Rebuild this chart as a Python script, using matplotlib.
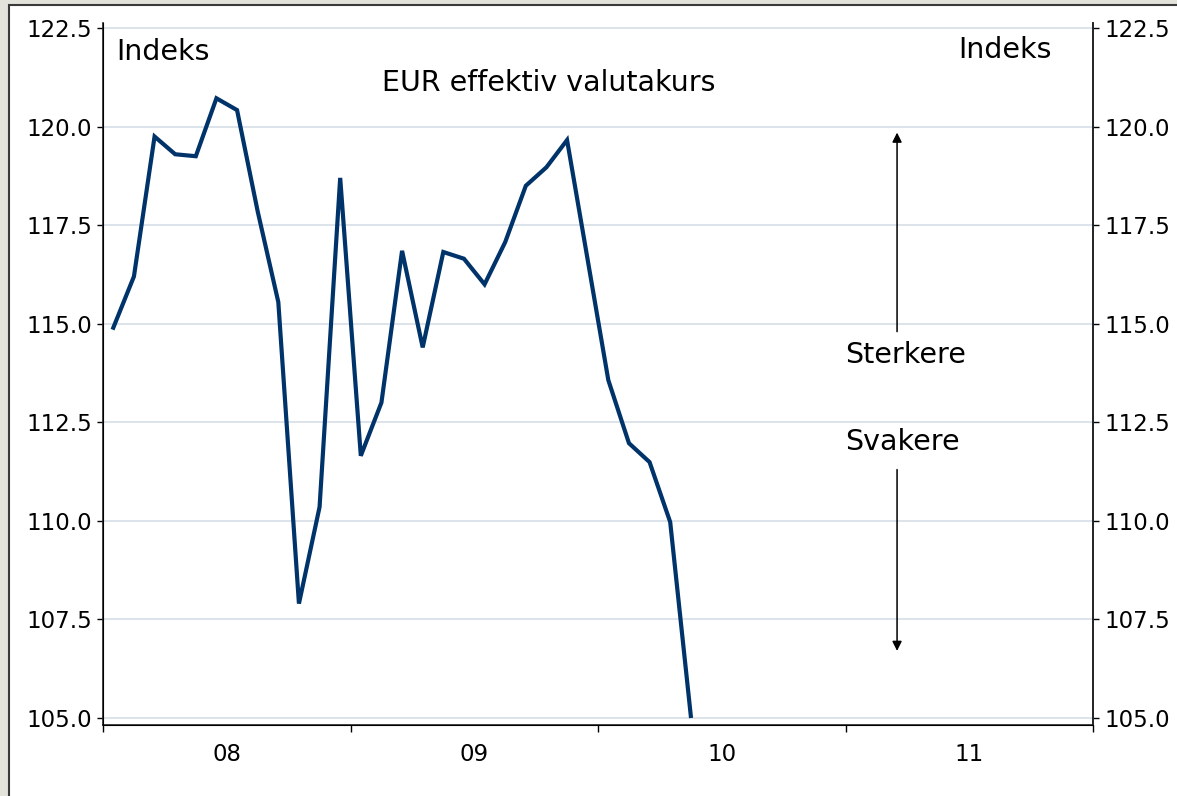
import numpy as np
import matplotlib.pyplot as plt
from matplotlib.patches import Rectangle

# monthly EUR effective exchange rate index, Jan 2008 onwards
values = [114.9, 116.2, 119.75, 119.3, 119.25, 120.72, 120.42, 117.85, 115.55,
          107.9, 110.35, 118.7, 111.65, 113.0, 116.85, 114.4, 116.82, 116.65,
          116.0, 117.07, 118.5, 118.97, 119.66, 116.62, 113.57, 111.97, 111.49,
          109.97, 105.05]
years = ['08', '09', '10', '11']
yticks = [105.0, 107.5, 110.0, 112.5, 115.0, 117.5, 120.0, 122.5]

months = np.arange(len(values)) + 0.5

fig = plt.figure(figsize=(11.77, 7.96), dpi=100, facecolor='#e3e3dc')
# white panel with dark frame
fig.patches.append(Rectangle((9 / 1177, -0.01), 1.0, 1 - 5 / 796 + 0.01,
                             transform=fig.transFigure, facecolor='white',
                             edgecolor='#3a3a3a', linewidth=1.5, zorder=-5))

ax = fig.add_axes([103 / 1177, 1 - 725 / 796, 990 / 1177, 702 / 796])
ax.set_facecolor('white')
ax.plot(months, values, color='#00336a', lw=3.0, solid_joinstyle='miter', zorder=3)

ax.set_xlim(0, 12 * len(years))
ax.set_ylim(104.82, 122.63)
ax.set_yticks(yticks)
ax.set_yticklabels(['{:.1f}'.format(v) for v in yticks])
ax.grid(axis='y', color='#d6dee6', lw=1.2)
ax.set_axisbelow(True)

ax.set_xticks(np.arange(0, 12 * len(years) + 1, 12))
ax.set_xticklabels([])
ax.set_xticks(np.arange(6, 12 * len(years), 12), minor=True)
ax.set_xticklabels(years, minor=True)
ax.tick_params(axis='x', which='minor', length=0, labelsize=16.5, pad=13)
ax.tick_params(axis='x', which='major', length=5, width=1)
ax.tick_params(axis='y', length=4, width=1, labelsize=16.5, pad=4)

ax.spines['top'].set_visible(False)
for s in ['left', 'bottom', 'right']:
    ax.spines[s].set_linewidth(1.2)
    ax.spines[s].set_color('#222222')

ax2 = ax.twinx()
ax2.set_ylim(ax.get_ylim())
ax2.set_yticks(yticks)
ax2.set_yticklabels(['{:.1f}'.format(v) for v in yticks])
ax2.tick_params(axis='y', length=4, width=1, labelsize=16.5, pad=4)
ax2.spines['top'].set_visible(False)
ax2.spines['right'].set_linewidth(1.2)
ax2.spines['right'].set_color('#222222')

ax.text(0.63, 121.9, 'Indeks', fontsize=20.5, va='center', ha='left')
ax.text(46.0, 121.95, 'Indeks', fontsize=20.5, va='center', ha='right')
ax.text(21.6, 121.1, 'EUR effektiv valutakurs', fontsize=20.5, va='center', ha='center')
ax.text(36.0, 114.2, 'Sterkere', fontsize=20.5, va='center', ha='left')
ax.text(36.0, 112.0, 'Svakere', fontsize=20.5, va='center', ha='left')

ax.annotate('', xy=(38.5, 119.85), xytext=(38.5, 114.8),
            arrowprops=dict(arrowstyle='-|>', color='black', lw=1.1,
                            mutation_scale=14, shrinkA=0, shrinkB=0))
ax.annotate('', xy=(38.5, 106.7), xytext=(38.5, 111.3),
            arrowprops=dict(arrowstyle='-|>', color='black', lw=1.1,
                            mutation_scale=14, shrinkA=0, shrinkB=0))

fig.savefig('out.png', dpi=100, facecolor=fig.get_facecolor())
